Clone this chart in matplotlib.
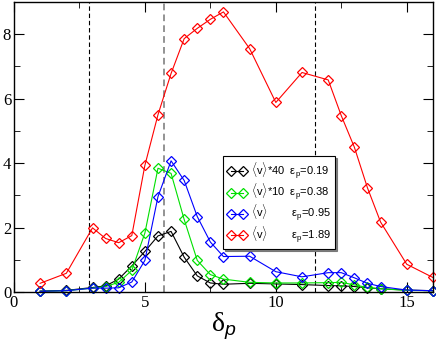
import numpy as np
import matplotlib
matplotlib.use('Agg')
import matplotlib.pyplot as plt
from matplotlib.ticker import MultipleLocator

plt.rcParams.update({'font.family': 'Liberation Serif',
                     'mathtext.fontset': 'custom',
                     'mathtext.rm': 'Liberation Sans',
                     'mathtext.it': 'Liberation Sans:italic'})

# delta_p Werte
x = [1, 2, 3, 3.5, 4, 4.5, 5, 5.5, 6, 6.5, 7, 7.5, 8, 9, 10, 11, 12, 12.5, 13, 13.5, 14, 15, 16]

# <v>*40, eps_p = 0.19
v_019 = [0.03, 0.05, 0.14, 0.19, 0.40, 0.81, 1.26, 1.74, 1.88, 1.08, 0.50, 0.28, 0.24,
         0.27, 0.25, 0.23, 0.20, 0.19, 0.17, 0.13, 0.10, 0.06, 0.04]
# <v>*10, eps_p = 0.38
v_038 = [0.02, 0.04, 0.12, 0.17, 0.30, 0.67, 1.83, 3.84, 3.68, 2.25, 0.98, 0.54, 0.40,
         0.30, 0.28, 0.28, 0.29, 0.30, 0.22, 0.14, 0.10, 0.05, 0.04]
# <v>, eps_p = 0.95
v_095 = [0.02, 0.04, 0.12, 0.12, 0.13, 0.31, 0.98, 2.96, 4.07, 3.46, 2.34, 1.55, 1.10,
         1.11, 0.63, 0.47, 0.60, 0.60, 0.44, 0.27, 0.17, 0.06, 0.04]
# <v>, eps_p = 1.89
v_189 = [0.27, 0.58, 1.99, 1.66, 1.53, 1.75, 3.93, 5.50, 6.78, 7.86, 8.18, 8.46, 8.69,
         7.55, 5.88, 6.81, 6.58, 5.47, 4.49, 3.23, 2.17, 0.86, 0.45]

labels = [r'$\langle\mathrm{v}\rangle$*40  $\mathrm{\varepsilon}_\mathrm{p}$=0.19',
          r'$\langle\mathrm{v}\rangle$*10  $\mathrm{\varepsilon}_\mathrm{p}$=0.38',
          r'$\langle\mathrm{v}\rangle$        $\mathrm{\varepsilon}_\mathrm{p}$=0.95',
          r'$\langle\mathrm{v}\rangle$        $\mathrm{\varepsilon}_\mathrm{p}$=1.89']
colors = ['black', '#00e000', 'blue', 'red']

# gestrichelte Linien
vlines = [2.87, 5.74, 11.48]
vline_colors = ['black', 'gray', 'black']

fig = plt.figure(figsize=(4.36, 3.47), dpi=100)
ax = fig.add_axes([0.032, 0.1585, 0.961, 0.836])

for xv, c in zip(vlines, vline_colors):
    ax.axvline(xv, color=c, ls=(0, (4, 2.5)), lw=0.8 if c == 'black' else 1.2)

for y, c, lab in zip([v_019, v_038, v_095, v_189], colors, labels):
    ax.plot(x, y, '-', color=c, lw=0.8, marker='D', ms=5.5, mfc='none',
            mec=c, mew=0.9, label=lab, clip_on=False)

ax.set_xlim(0, 16)
ax.set_ylim(0, 9)
ax.xaxis.set_major_locator(MultipleLocator(5))
ax.xaxis.set_minor_locator(MultipleLocator(2.5))
ax.yaxis.set_major_locator(MultipleLocator(2))
ax.yaxis.set_minor_locator(MultipleLocator(1))
ax.tick_params(which='both', direction='in', top=True, right=True, labelsize=12)
ax.tick_params(which='major', length=7, pad=2)
ax.tick_params(which='minor', length=4)
for s in ax.spines.values():
    s.set_linewidth(1.0)

ax.set_xlabel('δ$_{p}$', fontsize=20, labelpad=0)

# Legende mit leichtem Schatten
leg = ax.legend(loc='lower left', bbox_to_anchor=(0.499, 0.148), borderaxespad=0,
                fancybox=False, shadow={'ox': 1.5, 'oy': -1.5, 'color': '0.4', 'alpha': 0.8},
                numpoints=2, handlelength=1.7,
                prop={'family': 'Liberation Sans', 'size': 8},
                labelspacing=0.05, handletextpad=0.4, borderpad=0.4)
leg.get_frame().set_edgecolor('black')
leg.get_frame().set_linewidth(0.8)

fig.savefig('out.png', dpi=100)
